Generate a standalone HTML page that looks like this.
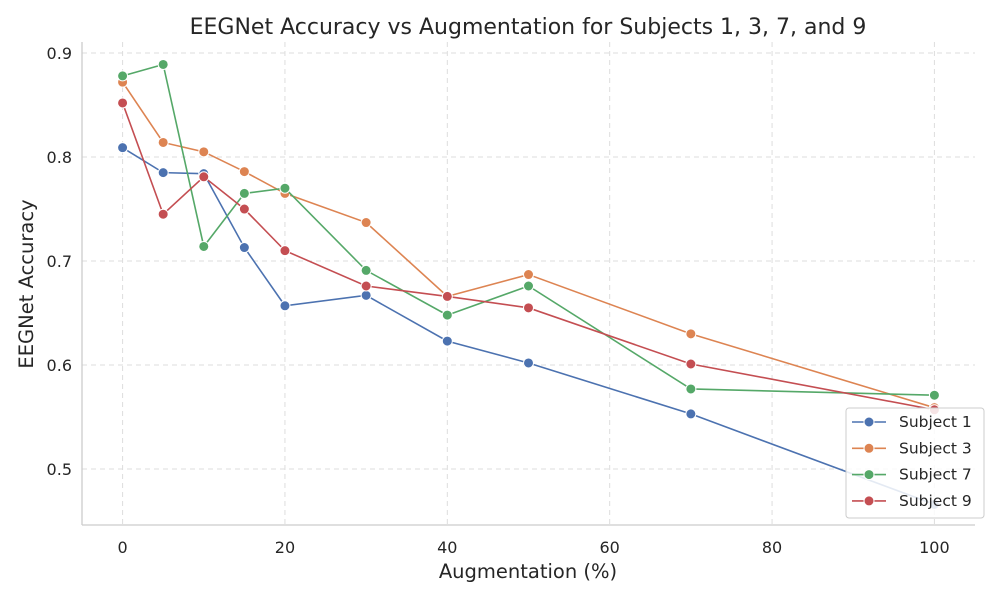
<!DOCTYPE html>
<html><head><meta charset="utf-8"><style>
body{margin:0;background:#fff;font-family:"DejaVu Sans","Liberation Sans",sans-serif;}
</style></head><body>
<svg id="chart" width="1000" height="600" xmlns="http://www.w3.org/2000/svg" font-family="DejaVu Sans, Liberation Sans, sans-serif"></svg>
<script>
const xValues=[0,5,10,15,20,30,40,50,70,100];
const subject1=[0.809,0.785,0.784,0.713,0.657,0.667,0.623,0.602,0.553,0.466];
const subject3=[0.872,0.814,0.805,0.786,0.765,0.737,0.666,0.687,0.630,0.559];
const subject7=[0.878,0.889,0.714,0.765,0.770,0.691,0.648,0.676,0.577,0.571];
const subject9=[0.852,0.745,0.781,0.750,0.710,0.676,0.666,0.655,0.601,0.557];
const seriesNames=["Subject 1","Subject 3","Subject 7","Subject 9"];
const xTicks=[0,20,40,60,80,100];
const yTicks=[0.5,0.6,0.7,0.8,0.9];
const colors=["#4c72b0","#dd8452","#55a868","#c44e52"];
const svg=document.getElementById('chart');
const NS="http://www.w3.org/2000/svg";
const L=82,R=975,T=42,B=525,xmin=-5,xmax=105,ymin=0.4462,ymax=0.9106;
const xs=v=>L+(v-xmin)/(xmax-xmin)*(R-L);
const ys=v=>B-(v-ymin)/(ymax-ymin)*(B-T);
function mk(tag,attrs,parent){const e=document.createElementNS(NS,tag);for(const k in attrs)e.setAttribute(k,attrs[k]);(parent||svg).appendChild(e);return e;}
const grid=mk('g',{});


xTicks.forEach(t=>{mk('line',{x1:xs(t),x2:xs(t),y1:T,y2:B,stroke:'#dddddd','stroke-dasharray':'5,4','stroke-width':1},grid);
const tx=mk('text',{x:xs(t),y:B+28,'text-anchor':'middle','font-size':16,fill:'#262626'});tx.textContent=t;

});
yTicks.forEach(t=>{mk('line',{x1:L,x2:R,y1:ys(t),y2:ys(t),stroke:'#dddddd','stroke-dasharray':'5,4','stroke-width':1},grid);
const tx=mk('text',{x:L-10,y:ys(t)+6,'text-anchor':'end','font-size':16,fill:'#262626'});tx.textContent=t.toFixed(1);

});
mk('line',{x1:L,x2:L,y1:T,y2:B,stroke:'#cccccc','stroke-width':1.3});
mk('line',{x1:L,x2:R,y1:B,y2:B,stroke:'#cccccc','stroke-width':1.3});
[subject1,subject3,subject7,subject9].forEach((s,i)=>{
const g=mk('g',{});


mk('polyline',{points:s.map((v,j)=>xs(xValues[j])+','+ys(v)).join(' '),fill:'none',stroke:colors[i],'stroke-width':1.6},g);
s.forEach((v,j)=>{const c=mk('circle',{cx:xs(xValues[j]),cy:ys(v),r:5,fill:colors[i],stroke:'#fff','stroke-width':1},g);

});
});
const t=mk('text',{x:528,y:34,'text-anchor':'middle','font-size':22,fill:'#262626'});t.textContent="EEGNet Accuracy vs Augmentation for Subjects 1, 3, 7, and 9";


const xt=mk('text',{x:528,y:578,'text-anchor':'middle','font-size':19.5,fill:'#262626'});xt.textContent="Augmentation (%)";


const yt=mk('text',{x:33,y:284,'text-anchor':'middle','font-size':19.5,fill:'#262626',transform:'rotate(-90 33 284)'});yt.textContent="EEGNet Accuracy";


const lg=mk('g',{});


mk('rect',{x:846,y:408,width:138,height:110,rx:3,fill:'#fff','fill-opacity':0.85,stroke:'#cccccc'},lg);
seriesNames.forEach((n,i)=>{const y=422+i*26.3;
const e=mk('g',{},lg);


mk('line',{x1:852,x2:886,y1:y,y2:y,stroke:colors[i],'stroke-width':1.6},e);
mk('circle',{cx:869,cy:y,r:5,fill:colors[i],stroke:'#fff'},e);
const tx=mk('text',{x:899,y:y+5,'font-size':15.5,fill:'#262626'},e);tx.textContent=n;});
</script>
</body></html>
